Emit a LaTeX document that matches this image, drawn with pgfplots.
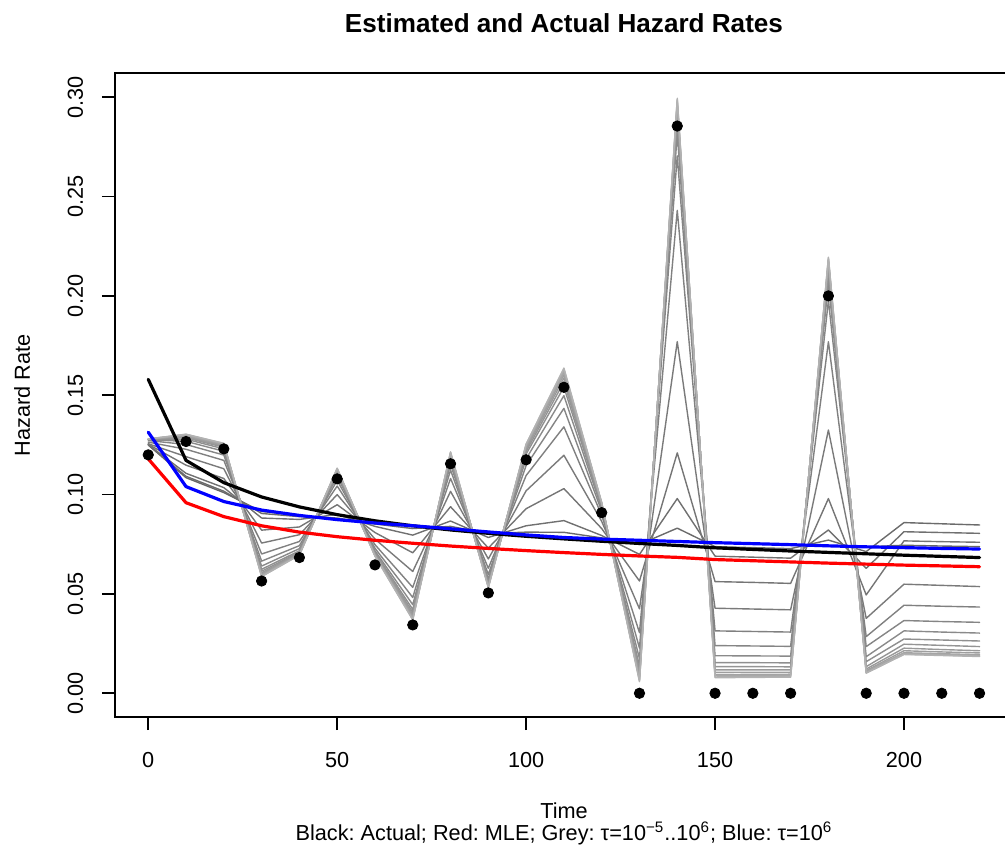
\documentclass[border=0pt]{standalone}
\usepackage{pgfplots}
\pgfplotsset{compat=1.18}
\usepackage{pgfplotstable}
\usepackage{fontspec}
\setmainfont{Liberation Sans}
\frenchspacing

\pgfplotstableread{
t   O      A      R      B      g1     g2     g3     g4     g5     g6     g7     g8     g9     g10    g11    g12    g13    g14    g15    g16
0   0.1200 0.1580 0.1180 0.1314 0.1250 0.1250 0.1251 0.1253 0.1256 0.1264 0.1272 0.1276 0.1277 0.1278 0.1279 0.1279 0.1279 0.1280 0.1280 0.1280
10  0.1267 0.1172 0.0959 0.1040 0.1085 0.1092 0.1107 0.1148 0.1191 0.1228 0.1252 0.1268 0.1279 0.1286 0.1291 0.1295 0.1299 0.1301 0.1303 0.1304
20  0.1230 0.1060 0.0889 0.0965 0.1010 0.1017 0.1035 0.1081 0.1130 0.1172 0.1199 0.1218 0.1230 0.1238 0.1243 0.1248 0.1252 0.1254 0.1257 0.1258
30  0.0565 0.0988 0.0843 0.0922 0.0915 0.0905 0.0882 0.0821 0.0756 0.0701 0.0665 0.0640 0.0624 0.0614 0.0606 0.0600 0.0595 0.0592 0.0589 0.0587
40  0.0683 0.0938 0.0811 0.0895 0.0895 0.0889 0.0875 0.0837 0.0798 0.0764 0.0743 0.0728 0.0717 0.0711 0.0707 0.0703 0.0700 0.0698 0.0696 0.0695
50  0.1079 0.0899 0.0788 0.0874 0.0874 0.0882 0.0900 0.0949 0.1000 0.1043 0.1071 0.1091 0.1104 0.1112 0.1118 0.1123 0.1127 0.1129 0.1131 0.1133
60  0.0646 0.0868 0.0770 0.0857 0.0857 0.0852 0.0840 0.0809 0.0776 0.0748 0.0730 0.0717 0.0709 0.0704 0.0700 0.0697 0.0694 0.0693 0.0691 0.0690
70  0.0344 0.0843 0.0755 0.0843 0.0843 0.0829 0.0796 0.0707 0.0613 0.0533 0.0482 0.0446 0.0422 0.0408 0.0397 0.0388 0.0380 0.0376 0.0372 0.0369
80  0.1155 0.0822 0.0741 0.0828 0.0828 0.0840 0.0867 0.0939 0.1016 0.1081 0.1123 0.1152 0.1172 0.1183 0.1192 0.1200 0.1206 0.1209 0.1213 0.1215
90  0.0505 0.0805 0.0729 0.0812 0.0812 0.0804 0.0784 0.0731 0.0676 0.0629 0.0598 0.0577 0.0562 0.0554 0.0548 0.0542 0.0538 0.0535 0.0533 0.0531
100 0.1175 0.0790 0.0718 0.0797 0.0797 0.0811 0.0843 0.0929 0.1019 0.1096 0.1146 0.1180 0.1204 0.1217 0.1228 0.1237 0.1244 0.1248 0.1252 0.1255
110 0.1540 0.0777 0.0708 0.0784 0.0784 0.0810 0.0869 0.1030 0.1198 0.1341 0.1434 0.1498 0.1541 0.1567 0.1587 0.1603 0.1617 0.1624 0.1632 0.1637
120 0.0909 0.0765 0.0699 0.0776 0.0776 0.0782 0.0794 0.0829 0.0865 0.0896 0.0916 0.0930 0.0939 0.0945 0.0949 0.0953 0.0956 0.0957 0.0959 0.0960
130 0.0000 0.0754 0.0691 0.0770 0.0770 0.0749 0.0699 0.0565 0.0425 0.0305 0.0227 0.0174 0.0138 0.0116 0.0100 0.0086 0.0075 0.0069 0.0062 0.0058
140 0.2855 0.0744 0.0684 0.0764 0.0764 0.0831 0.0980 0.1210 0.1770 0.2431 0.2705 0.2817 0.2883 0.2917 0.2939 0.2957 0.2973 0.2982 0.2988 0.2995
150 0.0000 0.0732 0.0673 0.0758 0.0758 0.0738 0.0690 0.0562 0.0428 0.0314 0.0240 0.0189 0.0154 0.0134 0.0118 0.0105 0.0094 0.0088 0.0082 0.0078
160 0.0000 0.0724 0.0667 0.0753 0.0753 0.0733 0.0685 0.0558 0.0424 0.0311 0.0238 0.0188 0.0154 0.0134 0.0118 0.0106 0.0095 0.0089 0.0084 0.0080
170 0.0000 0.0716 0.0661 0.0748 0.0748 0.0728 0.0680 0.0553 0.0420 0.0308 0.0236 0.0187 0.0153 0.0133 0.0118 0.0106 0.0096 0.0090 0.0085 0.0081
180 0.2000 0.0709 0.0655 0.0742 0.0742 0.0771 0.0822 0.0980 0.1325 0.1769 0.1977 0.2064 0.2108 0.2137 0.2154 0.2166 0.2178 0.2185 0.2191 0.2195
190 0.0000 0.0702 0.0650 0.0737 0.0737 0.0713 0.0629 0.0495 0.0377 0.0285 0.0235 0.0184 0.0159 0.0134 0.0122 0.0114 0.0109 0.0105 0.0103 0.0101
200 0.0000 0.0695 0.0645 0.0733 0.0745 0.0859 0.0813 0.0767 0.0549 0.0443 0.0366 0.0314 0.0273 0.0247 0.0227 0.0214 0.0204 0.0200 0.0197 0.0195
210 0.0000 0.0689 0.0641 0.0729 0.0741 0.0853 0.0809 0.0763 0.0543 0.0438 0.0361 0.0308 0.0268 0.0241 0.0220 0.0208 0.0199 0.0195 0.0192 0.0190
220 0.0000 0.0683 0.0637 0.0726 0.0738 0.0847 0.0805 0.0760 0.0537 0.0434 0.0357 0.0303 0.0263 0.0235 0.0214 0.0203 0.0194 0.0190 0.0187 0.0185
}\data

\begin{document}
\begin{tikzpicture}[font=\fontsize{10.85}{13}\selectfont]
\begin{axis}[
  name=ax,
  scale only axis,
  width=448.9pt, height=321.85pt,
  xmin=-8.8, xmax=228.8, ymin=-0.012, ymax=0.312,
  xtick={0,50,100,150,200},
  ytick={0,0.05,0.10,0.15,0.20,0.25,0.30},
  scaled y ticks=false,
  /pgf/number format/assume math mode=true,
  yticklabel={\rotatebox{90}{\pgfmathprintnumber[fixed,fixed zerofill,precision=2]{\tick}}},
  yticklabel style={anchor=east, inner sep=0pt, xshift=-9.25pt},
  xticklabel style={anchor=base, inner sep=0pt, yshift=-18.75pt},
  tick align=outside,
  major tick length=6.5pt,
  xtick pos=left, ytick pos=left,
  tick style={line width=0.9pt, black},
  axis line style={line width=0.9pt},
  every axis plot/.append style={line join=round, line cap=round},
]
\addplot[no marks, line width=0.7pt, color=black!60] table[x=t, y=g1] {\data};
\addplot[no marks, line width=0.7pt, color=black!58] table[x=t, y=g2] {\data};
\addplot[no marks, line width=0.7pt, color=black!56] table[x=t, y=g3] {\data};
\addplot[no marks, line width=0.7pt, color=black!54] table[x=t, y=g4] {\data};
\addplot[no marks, line width=0.7pt, color=black!52] table[x=t, y=g5] {\data};
\addplot[no marks, line width=0.7pt, color=black!50] table[x=t, y=g6] {\data};
\addplot[no marks, line width=0.7pt, color=black!48] table[x=t, y=g7] {\data};
\addplot[no marks, line width=0.7pt, color=black!46] table[x=t, y=g8] {\data};
\addplot[no marks, line width=0.7pt, color=black!44] table[x=t, y=g9] {\data};
\addplot[no marks, line width=0.7pt, color=black!42] table[x=t, y=g10] {\data};
\addplot[no marks, line width=0.7pt, color=black!40] table[x=t, y=g11] {\data};
\addplot[no marks, line width=0.7pt, color=black!38] table[x=t, y=g12] {\data};
\addplot[no marks, line width=0.7pt, color=black!36] table[x=t, y=g13] {\data};
\addplot[no marks, line width=0.7pt, color=black!34] table[x=t, y=g14] {\data};
\addplot[no marks, line width=0.7pt, color=black!32] table[x=t, y=g15] {\data};
\addplot[no marks, line width=0.7pt, color=black!30] table[x=t, y=g16] {\data};
\addplot[no marks, line width=1.6pt, color=black] table[x=t, y=A] {\data};
\addplot[no marks, line width=1.6pt, color={rgb,255:red,255;green,0;blue,0}] table[x=t, y=R] {\data};
\addplot[no marks, line width=1.6pt, color={rgb,255:red,0;green,0;blue,255}] table[x=t, y=B] {\data};
\addplot[only marks, mark=*, mark size=2.6pt, color=black] table[x=t, y=O] {\data};
\end{axis}
\node[anchor=base, font=\fontsize{13.05}{15}\selectfont\bfseries] at ([shift={(224.5pt,342.3pt)}]ax.south west) {Estimated and Actual Hazard Rates};
\node[anchor=base] at ([shift={(224.5pt,-50.6pt)}]ax.south west) {Time};
\node[anchor=base] at ([shift={(224.5pt,-61.45pt)}]ax.south west) {Black: Actual; Red: MLE; Grey: τ=10\textsuperscript{−5}..10\textsuperscript{6}; Blue: τ=10\textsuperscript{6}};
\node[anchor=base, rotate=90] at ([shift={(-42.5pt,161pt)}]ax.south west) {Hazard Rate};
\pgfresetboundingbox
\useasboundingbox ([shift={(-57.5pt,-66.45pt)}]ax.south west) rectangle ([shift={(445pt,358.55pt)}]ax.south west);
\end{tikzpicture}
\end{document}
